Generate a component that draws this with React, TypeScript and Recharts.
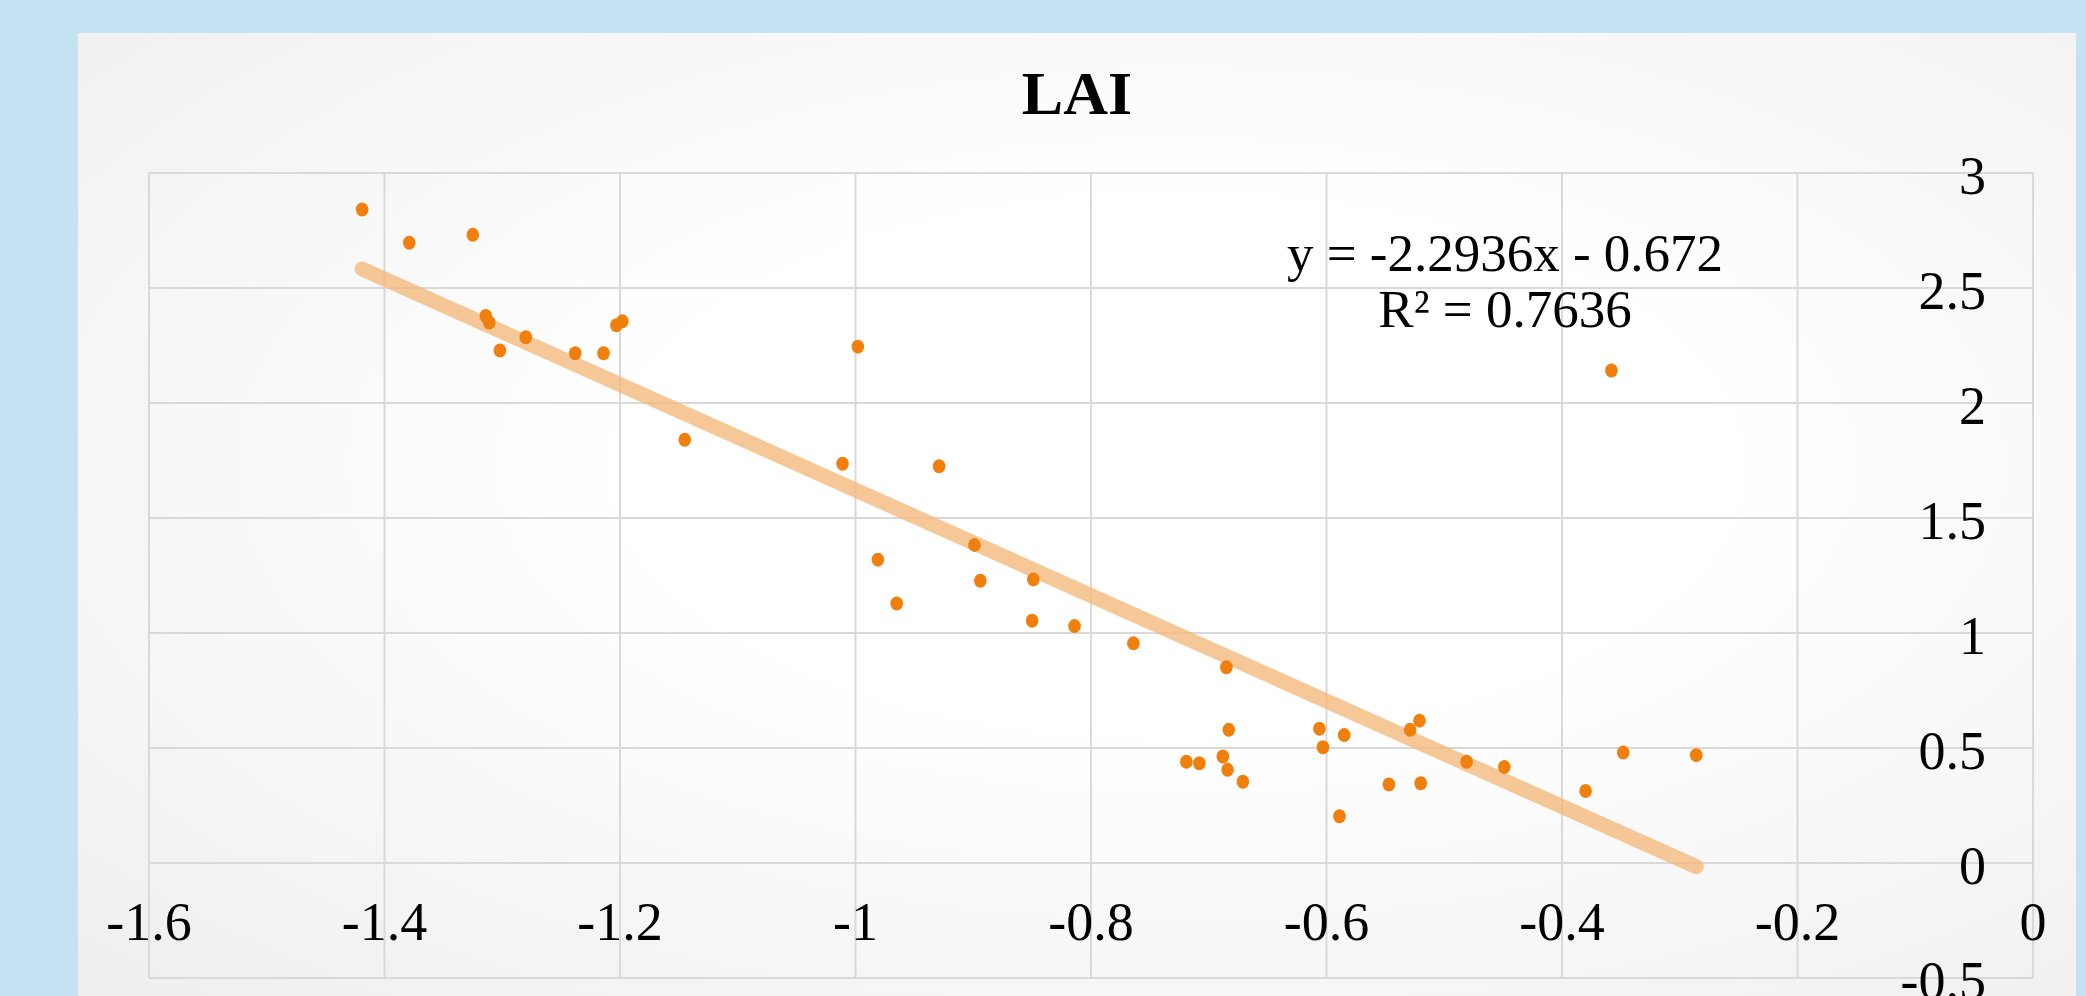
import { ScatterChart, Scatter, XAxis, YAxis, CartesianGrid } from 'recharts';

// values (x: index, y: LAI)
const xValues = [
  -1.419, -1.379, -1.325, -1.314, -1.311, -1.302, -1.28, -1.238, -1.214, -1.203, -1.198,
  -1.145, -1.011, -0.998, -0.929, -0.981, -0.965, -0.899, -0.894, -0.849, -0.85, -0.814,
  -0.764, -0.685, -0.683, -0.719, -0.708, -0.688, -0.684, -0.671, -0.606, -0.603, -0.585,
  -0.589, -0.547, -0.529, -0.521, -0.52, -0.481, -0.449, -0.38, -0.358, -0.348, -0.286,
];
const laiValues = [
  2.841, 2.697, 2.731, 2.378, 2.35, 2.228, 2.286, 2.216, 2.216, 2.338, 2.355,
  1.84, 1.736, 2.245, 1.725, 1.319, 1.128, 1.383, 1.227, 1.233, 1.053, 1.03,
  0.955, 0.851, 0.579, 0.44, 0.434, 0.463, 0.405, 0.353, 0.584, 0.503, 0.556,
  0.203, 0.341, 0.579, 0.619, 0.347, 0.44, 0.417, 0.313, 2.141, 0.48, 0.469,
];

const xTicks = [-1.6, -1.4, -1.2, -1, -0.8, -0.6, -0.4, -0.2, 0];
const yTicks = [-0.5, 0, 0.5, 1, 1.5, 2, 2.5, 3];

// linear trendline as printed on the chart
const slope = -2.2936;
const intercept = -0.672;
const rSquared = 0.7636;

const FONT = '"Liberation Serif", "Times New Roman", serif';

const points = xValues.map((x, i) => ({ x, y: laiValues[i] }));
const xMin = Math.min(...xValues);
const xMax = Math.max(...xValues);
const trend = [xMin, xMax].map((x) => ({ x, y: slope * x + intercept }));

function XTick({ x, payload }: any) {
  return (
    <text x={x} y={889} textAnchor="middle" dominantBaseline="central" fontFamily={FONT} fontSize={54} fill="#000">
      {String(payload.value)}
    </text>
  );
}

function YTick({ y, payload }: any) {
  return (
    <text x={1908} y={y + 3} textAnchor="end" dominantBaseline="central" fontFamily={FONT} fontSize={54} fill="#000">
      {String(payload.value)}
    </text>
  );
}

function Dot({ cx, cy }: any) {
  return <ellipse cx={cx} cy={cy} rx={6.3} ry={7} fill="#F07F0C" />;
}

export default function App() {
  return (
    <div style={{ position: 'absolute', left: 0, top: 0, width: 2086, height: 996, background: '#C5E2F2', overflow: 'hidden' }}>
      <div
        style={{
          position: 'absolute',
          left: 78,
          top: 33,
          width: 1998,
          height: 963,
          background: 'radial-gradient(ellipse at 55% 45%, #ffffff 35%, #eeeeee 100%)',
        }}
      >
        <div
          style={{
            position: 'absolute',
            left: 0,
            width: 1998,
            top: 27,
            textAlign: 'center',
            fontFamily: FONT,
            fontWeight: 'bold',
            fontSize: 62,
            lineHeight: '66px',
            color: '#000',
          }}
        >
          LAI
        </div>
        <ScatterChart width={1998} height={963} margin={{ top: 140, right: 42, bottom: 17, left: 71 }}>
          <CartesianGrid stroke="#d9d9d9" strokeWidth={2} />
          <XAxis
            type="number"
            dataKey="x"
            domain={[-1.6, 0]}
            ticks={xTicks}
            height={1}
            axisLine={false}
            tickLine={false}
            tick={(props: any) => <XTick {...props} />}
            interval={0}
          />
          <YAxis
            type="number"
            dataKey="y"
            orientation="right"
            domain={[-0.5, 3]}
            ticks={yTicks}
            width={1}
            axisLine={false}
            tickLine={false}
            tick={(props: any) => <YTick {...props} />}
            interval={0}
          />
          <Scatter
            data={trend}
            line={{ stroke: '#F5B97A', strokeOpacity: 0.78, strokeWidth: 15, strokeLinecap: 'round' }}
            shape={() => <g />}
            isAnimationActive={false}
          />
          <Scatter data={points} shape={<Dot />} isAnimationActive={false} />
        </ScatterChart>
        <div
          style={{
            position: 'absolute',
            left: 1127,
            width: 600,
            top: 192,
            textAlign: 'center',
            fontFamily: FONT,
            fontSize: 53,
            lineHeight: '56px',
            color: '#000',
            whiteSpace: 'nowrap',
          }}
        >
          <div>{`y = ${slope}x - ${Math.abs(intercept)}`}</div>
          <div>{`R² = ${rSquared}`}</div>
        </div>
      </div>
    </div>
  );
}
